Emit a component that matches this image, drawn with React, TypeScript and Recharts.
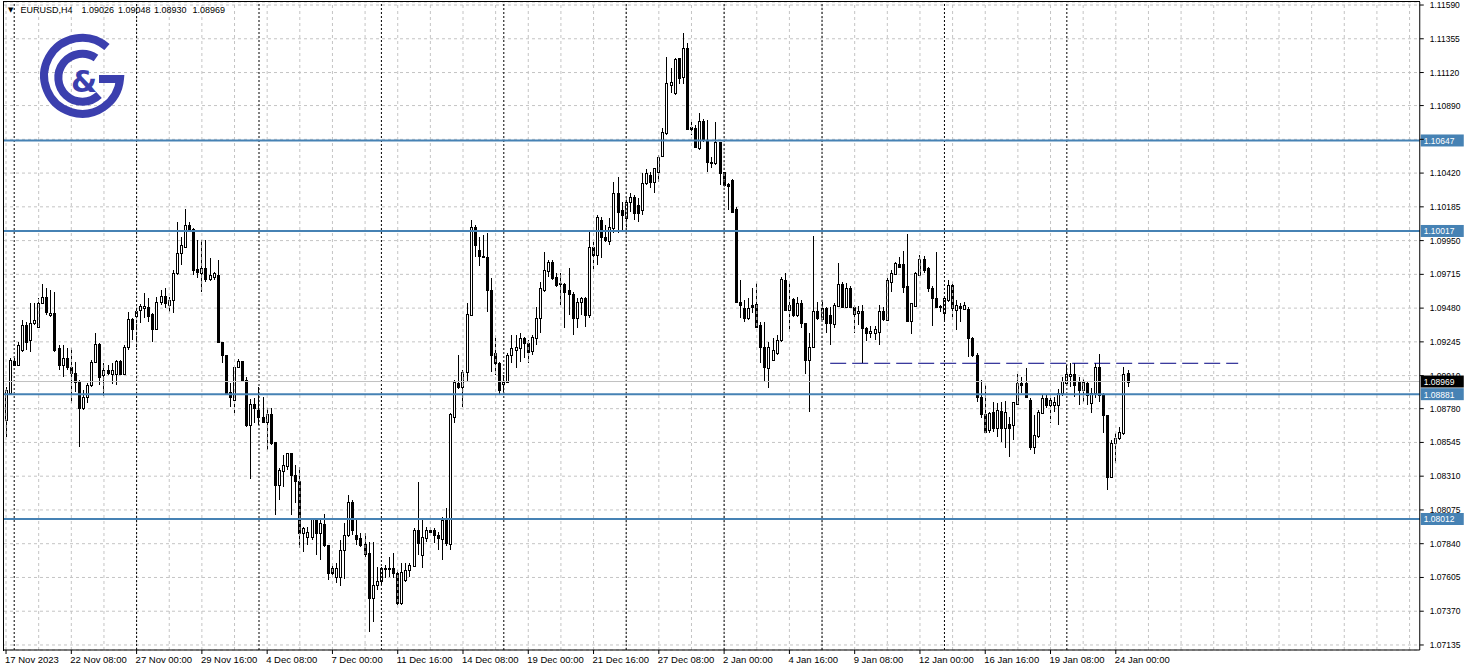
import { Bar, CartesianGrid, ComposedChart, ReferenceLine, XAxis, YAxis } from "recharts";

type Ohlc = [number, number, number, number]; // open, high, low, close

// EURUSD H4, one array per trading week
const nov17: Ohlc[] = [
  [1.08701, 1.08933, 1.08585, 1.0891], [1.08887, 1.0913, 1.08882, 1.09119], [1.09114, 1.0913, 1.09077, 1.09084],
  [1.09084, 1.09246, 1.09077, 1.09223], [1.09188, 1.09397, 1.09177, 1.09362], [1.09362, 1.09386, 1.09188, 1.09246],
  [1.09258, 1.09513, 1.09177, 1.09374], [1.09374, 1.09513, 1.09362, 1.09397], [1.09351, 1.09548, 1.09344, 1.09518],
  [1.09513, 1.09645, 1.09509, 1.09555], [1.0956, 1.09618, 1.09432, 1.09455], [1.0943, 1.09606, 1.0942, 1.09444],
  [1.09444, 1.09594, 1.09177, 1.09188], [1.09205, 1.09223, 1.09049, 1.09084], [1.09084, 1.09223, 1.09003, 1.0913],
  [1.0913, 1.092, 1.09049, 1.09072], [1.09072, 1.092, 1.08817, 1.09026], [1.09026, 1.09107, 1.08898, 1.08968],
  [1.08968, 1.0898, 1.08516, 1.08782], [1.08782, 1.0891, 1.08771, 1.08864], [1.08864, 1.08956, 1.08817, 1.08945],
  [1.08945, 1.09119, 1.08933, 1.09107], [1.09107, 1.09304, 1.09096, 1.0923], [1.0923, 1.09235, 1.08945, 1.09003],
  [1.09014, 1.09096, 1.08871, 1.09049], [1.09049, 1.09084, 1.09014, 1.09031], [1.09021, 1.09096, 1.08952, 1.09049],
  [1.09021, 1.09119, 1.08945, 1.09114], [1.09114, 1.09119, 1.09019, 1.09021], [1.09021, 1.09223, 1.09014, 1.09212],
  [1.09212, 1.09455, 1.09188, 1.09404], [1.09404, 1.09409, 1.09258, 1.09332],
];
const nov27: Ohlc[] = [
  [1.09425, 1.0949, 1.09212, 1.09462], [1.09467, 1.09506, 1.09379, 1.09495], [1.09478, 1.09583, 1.09409, 1.09495],
  [1.09485, 1.09548, 1.09386, 1.09425], [1.09439, 1.09444, 1.09246, 1.09332], [1.09332, 1.0956, 1.09328, 1.0952],
  [1.09522, 1.09606, 1.09502, 1.09564], [1.09564, 1.09618, 1.09478, 1.09513], [1.09502, 1.0956, 1.09455, 1.09536],
  [1.09536, 1.09745, 1.09448, 1.09722], [1.09722, 1.10082, 1.0971, 1.09861], [1.09861, 1.09977, 1.0978, 1.09919],
  [1.09908, 1.10167, 1.09896, 1.10058], [1.10058, 1.10082, 1.10012, 1.10024], [1.10028, 1.10035, 1.0971, 1.09745],
  [1.0975, 1.09954, 1.09687, 1.09734], [1.09727, 1.09954, 1.09594, 1.09757], [1.09757, 1.09954, 1.09664, 1.0968],
  [1.0968, 1.09826, 1.09671, 1.0971], [1.09694, 1.09734, 1.09676, 1.09722], [1.0971, 1.09815, 1.09235, 1.09246],
  [1.09246, 1.09246, 1.09096, 1.09154], [1.09154, 1.09154, 1.08882, 1.08891], [1.08898, 1.08956, 1.08794, 1.08864],
  [1.0884, 1.09084, 1.08752, 1.09072], [1.09072, 1.09123, 1.09061, 1.09114], [1.09114, 1.09114, 1.08968, 1.0898],
  [1.0898, 1.09003, 1.08655, 1.08666], [1.08666, 1.08845, 1.08288, 1.0881], [1.0881, 1.08852, 1.08678, 1.08782],
];
const dec04: Ohlc[] = [
  [1.08771, 1.08933, 1.08666, 1.08724], [1.08724, 1.08859, 1.08678, 1.0869], [1.0869, 1.08782, 1.08493, 1.08743],
  [1.08743, 1.08782, 1.08527, 1.08539], [1.0855, 1.0855, 1.0804, 1.08249], [1.08249, 1.08365, 1.08144, 1.08353],
  [1.08346, 1.08458, 1.08237, 1.08388], [1.08381, 1.08474, 1.08353, 1.08469], [1.08469, 1.08474, 1.0804, 1.08318],
  [1.08318, 1.08388, 1.08121, 1.08279], [1.08279, 1.08376, 1.07808, 1.07917], [1.07917, 1.07959, 1.07784, 1.07947],
  [1.07889, 1.07959, 1.07831, 1.07924], [1.07889, 1.08017, 1.07866, 1.0801], [1.0801, 1.08017, 1.07761, 1.07917],
  [1.07912, 1.08005, 1.07727, 1.07982], [1.07975, 1.08047, 1.0782, 1.07831], [1.07831, 1.07831, 1.07588, 1.07634],
  [1.07669, 1.07704, 1.076, 1.07634], [1.07611, 1.07704, 1.07564, 1.07674], [1.07611, 1.07866, 1.07546, 1.07796],
  [1.07796, 1.07982, 1.07592, 1.07901], [1.07901, 1.08179, 1.07889, 1.08133], [1.08133, 1.08144, 1.07901, 1.07936],
  [1.07901, 1.08005, 1.07831, 1.07871], [1.07878, 1.07912, 1.0782, 1.07831], [1.07838, 1.07917, 1.0775, 1.07768],
  [1.07773, 1.07854, 1.07228, 1.0746], [1.0746, 1.07854, 1.07298, 1.07553], [1.07553, 1.0768, 1.07518, 1.07583],
];
const dec11: Ohlc[] = [
  [1.07583, 1.0768, 1.07553, 1.07669], [1.07674, 1.07692, 1.076, 1.07662], [1.07674, 1.0775, 1.07611, 1.07664],
  [1.07669, 1.07778, 1.076, 1.07634], [1.07634, 1.07657, 1.07414, 1.07426], [1.07426, 1.07704, 1.07414, 1.07646],
  [1.07588, 1.07704, 1.07576, 1.07657], [1.07657, 1.07704, 1.07611, 1.07692], [1.07685, 1.07947, 1.0768, 1.07932],
  [1.07932, 1.08272, 1.07761, 1.07843], [1.07761, 1.08005, 1.07669, 1.07889], [1.07878, 1.07954, 1.07854, 1.07936],
  [1.07936, 1.07959, 1.07912, 1.07924], [1.07936, 1.07947, 1.07843, 1.07901], [1.07901, 1.07924, 1.07796, 1.07878],
  [1.07871, 1.08028, 1.07727, 1.08005], [1.08005, 1.08086, 1.07824, 1.07843], [1.07838, 1.08748, 1.07796, 1.08743],
  [1.08724, 1.0898, 1.08683, 1.08968], [1.08961, 1.09154, 1.08915, 1.08933], [1.08933, 1.09049, 1.08794, 1.09038],
  [1.09038, 1.09513, 1.08968, 1.09439], [1.09432, 1.10093, 1.09425, 1.10042], [1.10042, 1.10058, 1.09838, 1.09919],
  [1.09884, 1.09977, 1.09773, 1.09843], [1.09843, 1.09989, 1.09826, 1.09838], [1.09838, 1.1, 1.09455, 1.09606],
  [1.09606, 1.09688, 1.09038, 1.09154], [1.09166, 1.0927, 1.09015, 1.09096], [1.09096, 1.09108, 1.08876, 1.08911],
];
const dec18: Ohlc[] = [
  [1.0895, 1.09015, 1.08899, 1.08968], [1.08968, 1.09166, 1.08957, 1.09154], [1.09154, 1.09294, 1.09096, 1.09201],
  [1.09189, 1.09294, 1.09061, 1.09212], [1.09205, 1.09305, 1.09108, 1.09275], [1.09275, 1.09282, 1.09131, 1.09235],
  [1.09235, 1.09259, 1.09096, 1.09177], [1.09182, 1.09294, 1.09154, 1.09282], [1.09275, 1.09491, 1.09224, 1.0941],
  [1.0941, 1.09664, 1.09305, 1.09618], [1.09606, 1.09874, 1.09595, 1.09745], [1.09739, 1.09815, 1.09699, 1.09799],
  [1.09799, 1.09815, 1.09676, 1.09692], [1.09699, 1.09722, 1.0963, 1.09641], [1.09653, 1.09722, 1.09502, 1.09646],
  [1.09646, 1.09653, 1.0934, 1.09595], [1.09606, 1.09757, 1.09433, 1.09576], [1.09576, 1.09595, 1.09294, 1.0941],
  [1.0941, 1.09548, 1.0934, 1.09525], [1.09521, 1.0956, 1.09433, 1.09548], [1.09548, 1.0956, 1.09352, 1.09433],
  [1.09433, 1.10012, 1.0941, 1.09908], [1.09908, 1.09943, 1.09745, 1.0985], [1.0985, 1.10128, 1.0978, 1.10117],
  [1.10094, 1.10117, 1.09831, 1.09978], [1.09978, 1.10059, 1.09943, 1.09954], [1.09947, 1.10105, 1.0992, 1.10047],
  [1.10036, 1.10361, 1.10001, 1.1028], [1.1028, 1.10396, 1.10001, 1.10152], [1.10163, 1.10221, 1.10012, 1.10128],
];
const dec26: Ohlc[] = [
  [1.10105, 1.10245, 1.10008, 1.10221], [1.10221, 1.1028, 1.10152, 1.10256], [1.10256, 1.10268, 1.10094, 1.1014],
  [1.10198, 1.10245, 1.10082, 1.1014], [1.10163, 1.10419, 1.10128, 1.10349], [1.10349, 1.10449, 1.10338, 1.10419],
  [1.10407, 1.1043, 1.10314, 1.10361], [1.10361, 1.10458, 1.1028, 1.10453], [1.1043, 1.10546, 1.10361, 1.10534],
  [1.10541, 1.10732, 1.10534, 1.10704], [1.10697, 1.1123, 1.10685, 1.11045], [1.11033, 1.11149, 1.10975, 1.11052],
  [1.10975, 1.11219, 1.10964, 1.11214], [1.11219, 1.11219, 1.11038, 1.11079], [1.11091, 1.11393, 1.11038, 1.11293],
  [1.11293, 1.11323, 1.1072, 1.10727], [1.10743, 1.10778, 1.10685, 1.10727], [1.10732, 1.10755, 1.10593, 1.10604],
  [1.10593, 1.10836, 1.10581, 1.10783], [1.10783, 1.10796, 1.10639, 1.1065], [1.1065, 1.1079, 1.1043, 1.10495],
  [1.105, 1.10534, 1.10453, 1.10488], [1.10488, 1.10778, 1.10476, 1.10639], [1.10639, 1.10639, 1.10338, 1.10419],
];
const jan02: Ohlc[] = [
  [1.1043, 1.1043, 1.10325, 1.10337], [1.10342, 1.10349, 1.10163, 1.10332], [1.10375, 1.10381, 1.10142, 1.10152],
  [1.10167, 1.10184, 1.09516, 1.09526], [1.09525, 1.09676, 1.09409, 1.09502], [1.09479, 1.09537, 1.09386, 1.09409],
  [1.09409, 1.09548, 1.09397, 1.09479], [1.09502, 1.09618, 1.09444, 1.09485], [1.09509, 1.09653, 1.09346, 1.09351],
  [1.09363, 1.09386, 1.09096, 1.09212], [1.09212, 1.09386, 1.08968, 1.09073], [1.09061, 1.09247, 1.08922, 1.09212],
  [1.09119, 1.0927, 1.09119, 1.09189], [1.09165, 1.09293, 1.09154, 1.09258], [1.09258, 1.09699, 1.09247, 1.0968],
  [1.09676, 1.09722, 1.09462, 1.09467], [1.09467, 1.09653, 1.09316, 1.09502], [1.09541, 1.09548, 1.09421, 1.09432],
  [1.09432, 1.09555, 1.09421, 1.09518], [1.09513, 1.09537, 1.09339, 1.09374], [1.09374, 1.09379, 1.09022, 1.09119],
  [1.09119, 1.09305, 1.08759, 1.09212], [1.09207, 1.09982, 1.092, 1.09462], [1.09462, 1.09525, 1.09397, 1.09409],
];
const jan08: Ohlc[] = [
  [1.09402, 1.09525, 1.09397, 1.09479], [1.09479, 1.09485, 1.09305, 1.09374], [1.09432, 1.0949, 1.09224, 1.09374],
  [1.0937, 1.09513, 1.09339, 1.09502], [1.09495, 1.09792, 1.09485, 1.09648], [1.09648, 1.09664, 1.09485, 1.0949],
  [1.0949, 1.09653, 1.09479, 1.09618], [1.09618, 1.09634, 1.09479, 1.09485], [1.09485, 1.09502, 1.09305, 1.09439],
  [1.09444, 1.09495, 1.09363, 1.09462], [1.09462, 1.09502, 1.09096, 1.09339], [1.09339, 1.09351, 1.09254, 1.09305],
  [1.09305, 1.09356, 1.0927, 1.09323], [1.09309, 1.09356, 1.09258, 1.09332], [1.09316, 1.09502, 1.09224, 1.09462],
  [1.09462, 1.09485, 1.09393, 1.09402], [1.09397, 1.09687, 1.09393, 1.09676], [1.09664, 1.09745, 1.09595, 1.09722],
  [1.09718, 1.09803, 1.09711, 1.09792], [1.09787, 1.09834, 1.09757, 1.09769], [1.09787, 1.0988, 1.09588, 1.09629],
  [1.09634, 1.09996, 1.09386, 1.09393], [1.09393, 1.09513, 1.093, 1.09513], [1.09495, 1.09734, 1.09485, 1.09722],
  [1.09711, 1.0985, 1.09704, 1.0982], [1.0982, 1.09843, 1.09722, 1.09745], [1.09757, 1.09769, 1.09595, 1.09618],
  [1.09618, 1.09634, 1.09356, 1.09548], [1.09548, 1.09873, 1.09479, 1.09485], [1.09485, 1.09502, 1.09456, 1.09495],
];
const jan15: Ohlc[] = [
  [1.09449, 1.09555, 1.09397, 1.09548], [1.09537, 1.09676, 1.09525, 1.09641], [1.09641, 1.09664, 1.09397, 1.09479],
  [1.09467, 1.09537, 1.09328, 1.09502], [1.09495, 1.09513, 1.09386, 1.09479], [1.09472, 1.09525, 1.09467, 1.09502],
  [1.09472, 1.09485, 1.09142, 1.0927], [1.0927, 1.09281, 1.09142, 1.09154], [1.09154, 1.09165, 1.08829, 1.08864],
  [1.08864, 1.0898, 1.08713, 1.08743], [1.08743, 1.08945, 1.08609, 1.0862], [1.08632, 1.08759, 1.08613, 1.08748],
  [1.08759, 1.08829, 1.0862, 1.08643], [1.08643, 1.08822, 1.08585, 1.08771], [1.08766, 1.08829, 1.08551, 1.08643],
  [1.08643, 1.08836, 1.08504, 1.08759], [1.08674, 1.08725, 1.08442, 1.08643], [1.08667, 1.08829, 1.08562, 1.08829],
  [1.08813, 1.09022, 1.08806, 1.08957], [1.08957, 1.09003, 1.08887, 1.08945], [1.08961, 1.09061, 1.08852, 1.08864],
  [1.08841, 1.08852, 1.08493, 1.08516], [1.08516, 1.08736, 1.08465, 1.08597], [1.0859, 1.08771, 1.08574, 1.08759],
  [1.08752, 1.08875, 1.08748, 1.08852], [1.08852, 1.08875, 1.08783, 1.08806], [1.08806, 1.08875, 1.08678, 1.08841],
  [1.08806, 1.08864, 1.08759, 1.08829], [1.08806, 1.08915, 1.08667, 1.08892], [1.08887, 1.09003, 1.08868, 1.08975],
];
const jan22: Ohlc[] = [
  [1.08957, 1.09084, 1.08952, 1.09022], [1.09008, 1.09096, 1.08933, 1.09022], [1.09022, 1.09096, 1.08864, 1.08945],
  [1.08968, 1.09003, 1.08806, 1.0891], [1.0891, 1.08984, 1.08829, 1.08968], [1.08961, 1.08968, 1.08806, 1.08875],
  [1.08817, 1.08922, 1.08752, 1.08892], [1.08887, 1.09096, 1.08852, 1.09073], [1.09073, 1.09161, 1.08829, 1.08875],
  [1.08875, 1.08887, 1.08609, 1.08736], [1.08736, 1.08736, 1.08214, 1.08307], [1.08307, 1.08562, 1.08295, 1.08544],
  [1.08544, 1.08609, 1.084, 1.08574], [1.08574, 1.08655, 1.08562, 1.0862], [1.08609, 1.09073, 1.08597, 1.09022],
  [1.09026, 1.09048, 1.0893, 1.08969],
];

const timeTickBars = [0, 16, 32, 48, 64, 80, 96, 112, 128, 144, 160, 176, 192, 208, 224, 240, 256, 272];
const timeLabels = [
  "17 Nov 2023", "22 Nov 08:00", "27 Nov 00:00", "29 Nov 16:00", "4 Dec 08:00", "7 Dec 00:00",
  "11 Dec 16:00", "14 Dec 08:00", "19 Dec 00:00", "21 Dec 16:00", "27 Dec 08:00", "2 Jan 00:00",
  "4 Jan 16:00", "9 Jan 08:00", "12 Jan 00:00", "16 Jan 16:00", "19 Jan 08:00", "24 Jan 00:00",
];
const priceTicks = [
  1.07135, 1.0737, 1.07605, 1.0784, 1.08075, 1.0831, 1.08545, 1.0878, 1.0901, 1.09245,
  1.0948, 1.09715, 1.0995, 1.10185, 1.1042, 1.10655, 1.1089, 1.1112, 1.11355, 1.1159,
];
const hiddenPriceLabels = [1.10655];
const weekStartBars = [2, 32, 62, 92, 122, 152, 176, 200, 230, 260];
const levelLines = [1.10647, 1.10017, 1.08881, 1.08012];
const bidPrice = 1.08969;
const dashedLevel = 1.09096;
const dashedFromBar = 202;
const dashedToBar = 302;

const candles: Ohlc[] = [...nov17, ...nov27, ...dec04, ...dec11, ...dec18, ...dec26, ...jan02, ...jan08, ...jan15, ...jan22];
const shiftBars = 71; // empty space on the right (chart shift)

const rows = [
  ...candles.map(([o, h, l, c], i) => ({ i, o, h, l, c, range: [l, h] })),
  ...Array.from({ length: shiftBars }, (_, k) => ({ i: candles.length + k, range: null })),
];
const gridBars = Array.from({ length: 44 }, (_, k) => k * 8);

const font = "Liberation Sans, Arial, sans-serif";
const blue = "#4682b4";
const gridGray = "#c4c4c4";

function Candle(props: any) {
  const { x, y, width, height, payload } = props;
  if (!payload || payload.h == null || !Number.isFinite(y)) return null;
  const top = Math.min(y, y + height);
  const span = Math.abs(height);
  const toY = (v: number) => top + ((payload.h - v) / (payload.h - payload.l || 1)) * span;
  const cx = Math.floor(x + width / 2);
  const yo = toY(payload.o);
  const yc = toY(payload.c);
  const bull = payload.c >= payload.o;
  const bTop = Math.round(Math.min(yo, yc));
  const bBot = Math.max(Math.round(Math.max(yo, yc)), bTop + 1);
  return (
    <g>
      <line x1={cx + 0.5} x2={cx + 0.5} y1={Math.round(top)} y2={Math.round(top + span)} stroke="#000" />
      {bull ? (
        <rect x={cx - 0.5} y={bTop + 0.5} width={2} height={bBot - bTop} fill="#fff" stroke="#000" />
      ) : (
        <rect x={cx - 1} y={bTop} width={3} height={bBot - bTop + 1} fill="#000" />
      )}
    </g>
  );
}

function TimeTick(props: any) {
  const { x, y, payload } = props;
  const label = timeLabels[timeTickBars.indexOf(payload.value)];
  return (
    <g>
      <line x1={x} x2={x} y1={y} y2={y + 4} stroke="#000" />
      <text x={x - 1} y={y + 13} fontSize={9.5} fontFamily={font} fill="#000">{label}</text>
    </g>
  );
}

function PriceTick(props: any) {
  const { x, y, payload } = props;
  const v = payload.value as number;
  return (
    <g>
      <line x1={x} x2={x + 4} y1={y} y2={y} stroke="#000" />
      {!hiddenPriceLabels.includes(v) && (
        <text x={x + 10} y={y + 3} fontSize={8.5} fontFamily={font} fill="#000">{v.toFixed(5)}</text>
      )}
    </g>
  );
}

function PriceTag(props: any) {
  const { viewBox, text, bg } = props;
  if (!viewBox) return null;
  const right = viewBox.x + viewBox.width;
  const y = viewBox.y;
  return (
    <g>
      <rect x={right + 1} y={y - 6} width={43} height={12} fill={bg} />
      <text x={right + 4} y={y + 3.5} fontSize={8.5} fontFamily={font} fill="#fff">{text}</text>
    </g>
  );
}

function Logo() {
  const c = "#3b3fae";
  return (
    <svg width={240} height={130} style={{ position: "absolute", left: 0, top: 0 }}>
      <text x={8} y={12} fontSize={7} fontFamily="DejaVu Sans" fill="#000">▼</text>
      <text x={20.5} y={12.5} fontSize={9} fontFamily={font} fill="#000">EURUSD,H4</text>
      <text x={81.5} y={12.5} fontSize={9} fontFamily={font} fill="#000">1.09026</text>
      <text x={118} y={12.5} fontSize={9} fontFamily={font} fill="#000">1.09048</text>
      <text x={154} y={12.5} fontSize={9} fontFamily={font} fill="#000">1.08930</text>
      <text x={192.5} y={12.5} fontSize={9} fontFamily={font} fill="#000">1.08969</text>
      <g fill="none" stroke={c} strokeWidth={8}>
        <path d="M 107 47 A 38 38 0 1 0 120 79 L 99 79" />
        <path d="M 96 58 A 24 24 0 1 0 99 95" />
      </g>
      <text x={84} y={92} textAnchor="middle" fontSize={30} fontWeight="bold" fontFamily="DejaVu Sans" fill={c}>&amp;</text>
    </svg>
  );
}

export default function App() {
  return (
    <div style={{ position: "relative", width: 1468, height: 671, background: "#fff" }}>
      <style>{"body{margin:0;}"}</style>
      <ComposedChart
        width={1468}
        height={671}
        data={rows}
        margin={{ top: 2, right: 0, bottom: 0, left: 4 }}
        barCategoryGap={0}
        barGap={0}
      >
        <CartesianGrid vertical={false} stroke={gridGray} strokeDasharray="3 3" />
        {gridBars.map((b) => (
          <ReferenceLine key={"g" + b} x={b} stroke={gridGray} strokeDasharray="3 3" />
        ))}
        {weekStartBars.map((b) => (
          <ReferenceLine key={"w" + b} x={b} stroke="#000" strokeDasharray="2 2" />
        ))}
        <XAxis
          dataKey="i"
          type="category"
          ticks={timeTickBars}
          interval={0}
          tick={<TimeTick />}
          tickLine={false}
          tickSize={0}
          tickMargin={0}
          height={21}
          axisLine={{ stroke: "#000" }}
        />
        <YAxis
          orientation="right"
          type="number"
          domain={[1.071, 1.11611]}
          allowDataOverflow
          ticks={priceTicks}
          interval={0}
          tick={<PriceTick />}
          tickLine={false}
          tickSize={0}
          tickMargin={0}
          width={48.24}
          axisLine={{ stroke: "#000" }}
        />
        <ReferenceLine y={bidPrice} stroke="#c0c0c0" />
        <Bar dataKey="range" shape={<Candle />} isAnimationActive={false} />
        <ReferenceLine
          segment={[{ x: dashedFromBar, y: dashedLevel }, { x: dashedToBar, y: dashedLevel }]}
          stroke="#000080"
          strokeDasharray="16 6"
        />
        {levelLines.map((v) => (
          <ReferenceLine
            key={"l" + v}
            y={v}
            stroke={blue}
            strokeWidth={2}
            label={<PriceTag text={v.toFixed(5)} bg={blue} />}
          />
        ))}
        <ReferenceLine y={bidPrice} stroke="none" label={<PriceTag text={bidPrice.toFixed(5)} bg="#000" />} />
      </ComposedChart>
      <div
        style={{
          position: "absolute",
          left: 3,
          top: 1,
          width: 1416,
          height: 649,
          borderLeft: "1px solid #000",
          borderTop: "1px solid #000",
          pointerEvents: "none",
        }}
      />
      <Logo />
    </div>
  );
}
